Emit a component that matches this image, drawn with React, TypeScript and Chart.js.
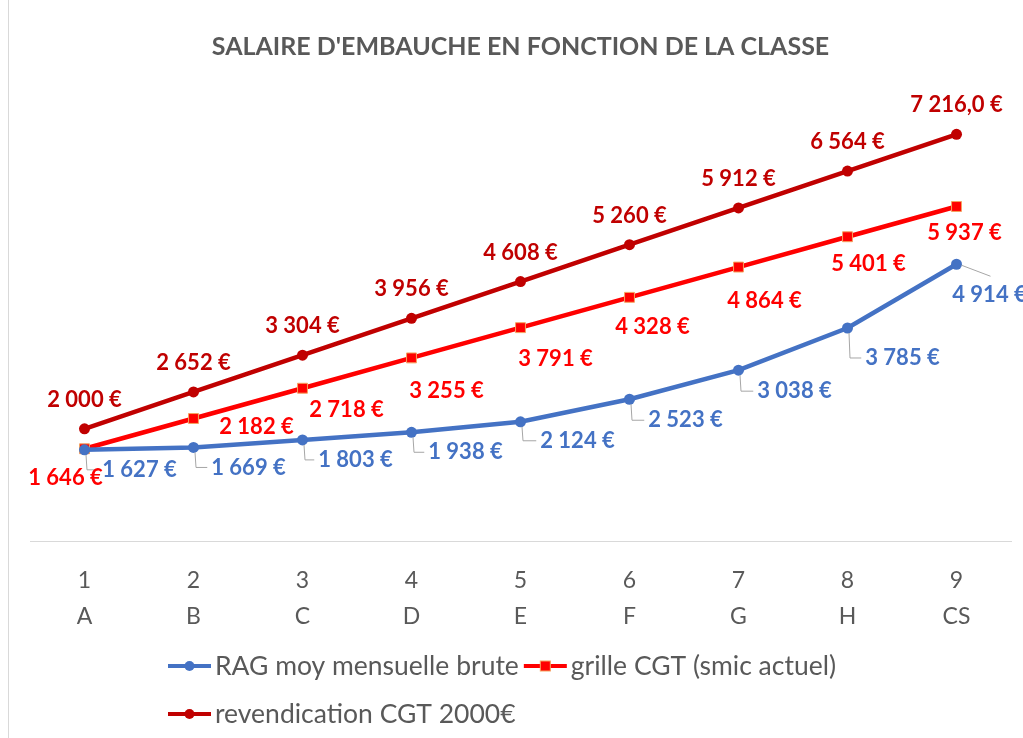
import React, { useEffect, useRef } from 'react';
import { Chart, registerables } from 'chart.js';

Chart.register(...registerables);

// ---- Data ----
const CLASS_NUMBERS = ['1', '2', '3', '4', '5', '6', '7', '8', '9'];
const CLASS_LETTERS = ['A', 'B', 'C', 'D', 'E', 'F', 'G', 'H', 'CS'];
const RAG_VALUES = [1627, 1669, 1803, 1938, 2124, 2523, 3038, 3785, 4914];
const GRILLE_VALUES = [1646, 2182, 2718, 3255, 3791, 4328, 4864, 5401, 5937];
const REVENDICATION_VALUES = [2000, 2652, 3304, 3956, 4608, 5260, 5912, 6564, 7216];
const REVENDICATION_DECIMALS = [0, 0, 0, 0, 0, 0, 0, 0, 1];
const SERIES_NAMES = ['RAG moy mensuelle brute', 'grille CGT (smic actuel)', 'revendication CGT 2000€'];
const TITLE = "SALAIRE D'EMBAUCHE EN FONCTION DE LA CLASSE";
const Y_MAX = 8000;

// ---- Styles / layout ----
const BLUE = '#4472C4';
const RED = '#FF0000';
const DARK_RED = '#C00000';
const SQUARE_BORDER = '#F4A460';
const TEXT_GRAY = '#595959';
const FONT = 'Lato';

const RAG_LABEL_OFFSETS = [[55, 20], [55, 20], [53, 20], [54, 20], [57, 19], [56, 21], [56, 21], [55, 30], [33, 31]];
const RAG_LEADERS = ['elbow', 'elbow', 'elbow', 'elbow', 'elbow', 'elbow', 'elbow', 'elbow', 'straight'];
const GRILLE_LABEL_OFFSETS = [[-19, 29], [63, 8], [44, 22], [35, 33], [35, 31], [23, 30], [26, 34], [21, 27], [8, 26]];
const REV_LABEL_OFFSET = [0, -29];

function fmtEuro(v: number, dec = 0): string {
  const s = v.toFixed(dec);
  const [intPart, decPart] = s.split('.');
  const grouped = intPart.replace(/\B(?=(\d{3})+(?!\d))/g, ' ');
  return (decPart ? grouped + ',' + decPart : grouped) + ' €';
}

const labelsPlugin = {
  id: 'customDataLabels',
  afterDatasetsDraw(chart: any) {
    const ctx = chart.ctx as CanvasRenderingContext2D;
    ctx.save();
    ctx.font = `bold 22px ${FONT}`;
    ctx.textAlign = 'center';
    ctx.textBaseline = 'middle';
    chart.data.datasets.forEach((ds: any, i: number) => {
      const meta = chart.getDatasetMeta(i);
      meta.data.forEach((pt: any, j: number) => {
        let dx = 0, dy = 0, text = '', color = '#000';
        if (i === 0) {
          [dx, dy] = RAG_LABEL_OFFSETS[j];
          text = fmtEuro(ds.data[j]);
          color = BLUE;
        } else if (i === 1) {
          [dx, dy] = GRILLE_LABEL_OFFSETS[j];
          text = fmtEuro(ds.data[j]);
          color = RED;
        } else {
          [dx, dy] = REV_LABEL_OFFSET;
          text = fmtEuro(ds.data[j], REVENDICATION_DECIMALS[j]);
          color = DARK_RED;
        }
        const x = pt.x + dx;
        const y = pt.y + dy;
        const w = ctx.measureText(text).width;
        if (i === 0) {
          ctx.strokeStyle = '#A6A6A6';
          ctx.lineWidth = 1;
          ctx.beginPath();
          if (RAG_LEADERS[j] === 'elbow') {
            ctx.moveTo(pt.x + 1.5, pt.y + 5);
            ctx.lineTo(pt.x + 2.5, y);
            ctx.lineTo(x - w / 2 - 4, y);
          } else {
            ctx.moveTo(pt.x + 5, pt.y + 1);
            ctx.lineTo(x + 1, y - 19);
          }
          ctx.stroke();
        }
        ctx.fillStyle = color;
        ctx.fillText(text, x, y);
      });
    });
    ctx.restore();
  },
};

function drawLegendMarker(ctx: CanvasRenderingContext2D, x: number, y: number, color: string, square: boolean) {
  ctx.strokeStyle = color;
  ctx.lineWidth = 4;
  ctx.beginPath();
  ctx.moveTo(x, y);
  ctx.lineTo(x + 43, y);
  ctx.stroke();
  const cx = x + 21.5;
  if (square) {
    ctx.fillStyle = color;
    ctx.fillRect(cx - 5, y - 5, 10, 10);
    ctx.strokeStyle = SQUARE_BORDER;
    ctx.lineWidth = 1;
    ctx.strokeRect(cx - 5, y - 5, 10, 10);
  } else {
    ctx.fillStyle = color;
    ctx.beginPath();
    ctx.arc(cx, y, 5, 0, Math.PI * 2);
    ctx.fill();
  }
}

const legendPlugin = {
  id: 'customLegend',
  afterDraw(chart: any) {
    const ctx = chart.ctx as CanvasRenderingContext2D;
    ctx.save();
    ctx.font = `26.5px ${FONT}`;
    ctx.textAlign = 'left';
    ctx.textBaseline = 'middle';
    ctx.fillStyle = TEXT_GRAY;
    const startX = 160;
    const row1 = 666;
    const row2 = 714;
    const colors = [BLUE, RED, DARK_RED];
    let x = startX;
    drawLegendMarker(ctx, x, row1, colors[0], false);
    ctx.fillStyle = TEXT_GRAY;
    ctx.fillText(SERIES_NAMES[0], x + 47, row1);
    x = x + 47 + ctx.measureText(SERIES_NAMES[0]).width + 5;
    drawLegendMarker(ctx, x, row1, colors[1], true);
    ctx.fillStyle = TEXT_GRAY;
    ctx.fillText(SERIES_NAMES[1], x + 47, row1);
    x = startX;
    drawLegendMarker(ctx, x, row2, colors[2], false);
    ctx.fillStyle = TEXT_GRAY;
    ctx.fillText(SERIES_NAMES[2], x + 47, row2);
    ctx.restore();
  },
};

export default function App() {
  const canvasRef = useRef<HTMLCanvasElement | null>(null);

  useEffect(() => {
    if (!canvasRef.current) return;
    Chart.defaults.font.family = FONT;
    const chart = new Chart(canvasRef.current, {
      type: 'line',
      data: {
        labels: CLASS_NUMBERS.map((n, i) => [n, CLASS_LETTERS[i]]),
        datasets: [
          {
            label: SERIES_NAMES[0],
            data: RAG_VALUES,
            borderColor: BLUE,
            backgroundColor: BLUE,
            borderWidth: 4.5,
            pointRadius: 5.5,
            pointBorderWidth: 0,
            pointStyle: 'circle',
            tension: 0,
          },
          {
            label: SERIES_NAMES[1],
            data: GRILLE_VALUES,
            borderColor: RED,
            backgroundColor: RED,
            borderWidth: 4.5,
            pointRadius: 7,
            pointBorderWidth: 1,
            pointBorderColor: SQUARE_BORDER,
            pointBackgroundColor: RED,
            pointStyle: 'rect',
            tension: 0,
          },
          {
            label: SERIES_NAMES[2],
            data: REVENDICATION_VALUES,
            borderColor: DARK_RED,
            backgroundColor: DARK_RED,
            borderWidth: 4.5,
            pointRadius: 5.5,
            pointBorderWidth: 0,
            pointStyle: 'circle',
            tension: 0,
          },
        ],
      },
      options: {
        animation: false,
        responsive: true,
        maintainAspectRatio: false,
        layout: { padding: { left: 22, right: 12, top: 0, bottom: 83 } },
        plugins: {
          legend: { display: false },
          tooltip: { enabled: false },
          title: {
            display: true,
            text: TITLE,
            color: TEXT_GRAY,
            font: { family: FONT, size: 25, weight: 'bold' },
            padding: { top: 32, bottom: 28 },
          },
        },
        scales: {
          x: {
            offset: true,
            grid: { display: false, drawTicks: false },
            border: { display: true, color: '#D9D9D9', width: 1 },
            ticks: {
              color: TEXT_GRAY,
              font: { family: FONT, size: 23, lineHeight: 1.55 },
              padding: 21,
              maxRotation: 0,
              autoSkip: false,
            },
          },
          y: {
            display: false,
            min: 0,
            max: Y_MAX,
          },
        },
      },
      plugins: [labelsPlugin, legendPlugin],
    });
    return () => chart.destroy();
  }, []);

  return (
    <div style={{ position: 'fixed', left: 0, top: 0, width: 1023, height: 738, overflow: 'hidden', background: '#fff' }}>
      <div style={{ position: 'absolute', left: 8, top: 0, width: 1, height: 738, background: '#D9D9D9' }} />
      <div style={{ position: 'absolute', left: 8, top: 0, width: 1015, height: 738 }}>
        <canvas ref={canvasRef} />
      </div>
    </div>
  );
}
